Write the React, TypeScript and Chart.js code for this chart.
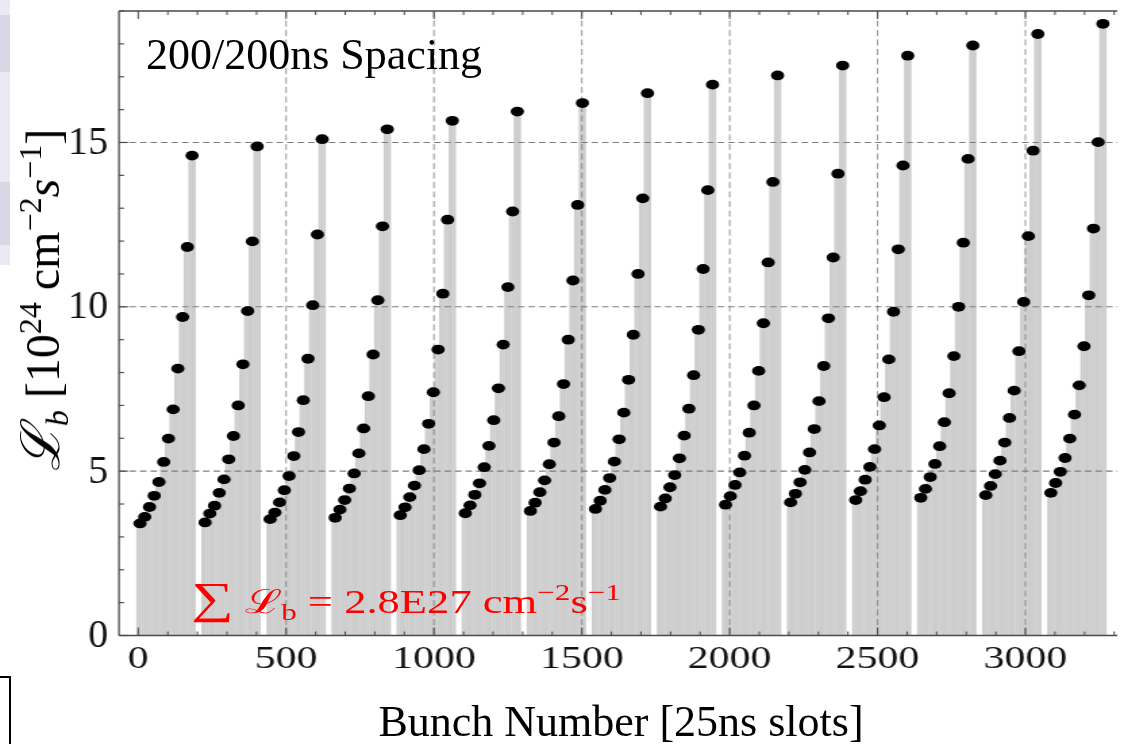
import { useEffect, useRef } from 'react';
import { Chart, registerables } from 'chart.js';

Chart.register(...registerables);

// ---- data (bunch luminosity, 10^24 cm^-2 s^-1) ----
const train01 = [3.41, 3.61, 3.91, 4.25, 4.67, 5.28, 5.99, 6.88, 8.12, 9.69, 11.82, 14.6];
const train02 = [3.44, 3.71, 3.95, 4.34, 4.75, 5.36, 6.07, 7.0, 8.25, 9.87, 11.99, 14.88];
const train03 = [3.54, 3.74, 4.05, 4.42, 4.85, 5.46, 6.19, 7.16, 8.42, 10.05, 12.2, 15.1];
const train04 = [3.58, 3.83, 4.12, 4.47, 4.93, 5.54, 6.3, 7.28, 8.55, 10.2, 12.45, 15.4];
const train05 = [3.66, 3.9, 4.21, 4.56, 5.03, 5.67, 6.44, 7.4, 8.7, 10.4, 12.65, 15.66];
const train06 = [3.72, 3.96, 4.28, 4.63, 5.12, 5.77, 6.55, 7.52, 8.85, 10.6, 12.9, 15.94];
const train07 = [3.79, 4.04, 4.36, 4.72, 5.21, 5.87, 6.67, 7.65, 9.0, 10.8, 13.1, 16.2];
const train08 = [3.85, 4.1, 4.43, 4.79, 5.29, 5.97, 6.78, 7.78, 9.15, 11.0, 13.3, 16.5];
const train09 = [3.92, 4.17, 4.51, 4.88, 5.39, 6.08, 6.9, 7.92, 9.3, 11.15, 13.55, 16.76];
const train10 = [3.98, 4.24, 4.58, 4.96, 5.47, 6.17, 7.0, 8.05, 9.5, 11.35, 13.8, 17.04];
const train11 = [4.05, 4.31, 4.66, 5.04, 5.57, 6.28, 7.13, 8.2, 9.65, 11.5, 14.05, 17.34];
const train12 = [4.12, 4.39, 4.74, 5.13, 5.67, 6.39, 7.25, 8.4, 9.85, 11.75, 14.3, 17.64];
const train13 = [4.19, 4.46, 4.82, 5.22, 5.76, 6.49, 7.37, 8.5, 10.0, 11.95, 14.5, 17.95];
const train14 = [4.27, 4.55, 4.91, 5.32, 5.87, 6.62, 7.45, 8.65, 10.15, 12.15, 14.75, 18.3];
const train15 = [4.34, 4.64, 4.98, 5.4, 5.99, 6.72, 7.61, 8.8, 10.35, 12.38, 15.01, 18.61];

const trains = [train01, train02, train03, train04, train05, train06, train07, train08,
  train09, train10, train11, train12, train13, train14, train15];

// first marked bunch of every train [25ns slots]
const trainFirstBunch = [6, 226, 446, 666, 886, 1106, 1326, 1546, 1766, 1986, 2206, 2426, 2646, 2866, 3086];
// marked bunches within a train (offset from its first marked bunch)
const dotOffsets = [0, 16, 32, 48, 64, 80, 96, 112, 128, 144, 160, 176];
// filled bunches within a train (offset from its first marked bunch)
const stemOffsets = [-8, 0, 8, 16, 24, 32, 40, 48, 56, 64, 72, 80, 88, 96, 104, 112, 120, 128, 136, 144, 152, 160, 168, 176, 184];

const xTickValues = [0, 500, 1000, 1500, 2000, 2500, 3000];
const yTickValues = [0, 5, 10, 15];
const xGridValues = [500, 1000, 1500, 2000, 2500, 3000];
const yGridValues = [5, 10, 15];

const X_MIN = -65;
const X_MAX = 3311;
const Y_MIN = 0;
const Y_MAX = 19;

// horizontal stretch of the plotted graphic
const W = 832;
const H = 744;
const S = 1124 / W;
const SERIF = '"Liberation Serif", "Times New Roman", "DejaVu Serif", serif';

const dotPoints = trains.flatMap((t, k) => t.map((v, i) => ({ x: trainFirstBunch[k] + dotOffsets[i], y: v })));
const stemPoints = trains.flatMap((t, k) =>
  stemOffsets.map((o) => {
    const idx = Math.min(t.length - 1, Math.max(0, Math.ceil(o / 16)));
    return { x: trainFirstBunch[k] + o, y: t[idx] };
  })
);

const framePlugin = {
  id: 'framePlugin',
  afterDatasetDraw(chart: any, args: any) {
    if (args.index !== 0) return;
    const { ctx, chartArea: a, scales } = chart;
    const x = scales.x;
    const y = scales.y;
    ctx.save();
    ctx.strokeStyle = '#7c7c7c';
    ctx.lineWidth = 0.8;
    ctx.setLineDash([6, 3.5]);
    for (const v of xGridValues) {
      const px = x.getPixelForValue(v);
      ctx.beginPath();
      ctx.moveTo(px, a.top);
      ctx.lineTo(px, a.bottom);
      ctx.stroke();
    }
    ctx.lineWidth = 1.1;
    ctx.setLineDash([6.5 / S, 4 / S]);
    for (const v of yGridValues) {
      const py = y.getPixelForValue(v);
      ctx.beginPath();
      ctx.moveTo(a.left, py);
      ctx.lineTo(a.right, py);
      ctx.stroke();
    }
    ctx.restore();
  },
  afterDraw(chart: any) {
    const { ctx, chartArea: a, scales } = chart;
    const x = scales.x;
    const y = scales.y;
    ctx.save();
    ctx.strokeStyle = '#4a4a4a';
    ctx.setLineDash([]);
    ctx.lineWidth = 1.3;
    ctx.beginPath();
    ctx.moveTo(a.left, a.top);
    ctx.lineTo(a.left, a.bottom);
    ctx.stroke();
    ctx.lineWidth = 1.6;
    ctx.beginPath();
    ctx.moveTo(a.left, a.bottom);
    ctx.lineTo(a.right, a.bottom);
    ctx.moveTo(a.left, a.top);
    ctx.lineTo(a.right, a.top);
    ctx.stroke();
    ctx.lineWidth = 1;
    for (let v = 0; v <= 3300; v += 100) {
      const px = x.getPixelForValue(v);
      const len = v % 500 === 0 ? 8 : 4;
      ctx.beginPath();
      ctx.moveTo(px, a.bottom);
      ctx.lineTo(px, a.bottom - len);
      ctx.moveTo(px, a.top);
      ctx.lineTo(px, a.top + len);
      ctx.stroke();
    }
    ctx.lineWidth = 1.2;
    for (let v = 0; v <= 19; v += 1) {
      const py = y.getPixelForValue(v);
      const len = (v % 5 === 0 ? 9 : 5) / S;
      ctx.beginPath();
      ctx.moveTo(a.left, py);
      ctx.lineTo(a.left + len, py);
      ctx.stroke();
    }
    // y tick labels, drawn unstretched (counter the horizontal stretch)
    ctx.fillStyle = '#111';
    ctx.font = `40px ${SERIF}`;
    ctx.textAlign = 'right';
    ctx.textBaseline = 'middle';
    for (const v of yTickValues) {
      const py = y.getPixelForValue(v);
      ctx.save();
      ctx.translate(a.left - 11 / S, py + 1);
      ctx.scale(1 / S, 1);
      ctx.fillText(String(v), 0, 0);
      ctx.restore();
    }
    ctx.restore();
  },
};

const supStyle = (fs: number, top: number): any => ({ fontSize: fs, position: 'relative', top, lineHeight: 0 });

const zeroPad = (s: any) => {
  s.paddingTop = 0;
  s.paddingBottom = 0;
  s.paddingLeft = 0;
  s.paddingRight = 0;
};

export default function App() {
  const ref = useRef<HTMLCanvasElement>(null);

  useEffect(() => {
    if (!ref.current) return;
    const chart = new Chart(ref.current, {
      type: 'scatter',
      data: {
        datasets: [
          {
            type: 'bar',
            data: stemPoints as any,
            backgroundColor: '#cdcdcd',
            borderWidth: 0,
            barThickness: 1.3,
            order: 2,
          } as any,
          {
            type: 'scatter',
            data: dotPoints,
            pointRadius: 4.9,
            pointBackgroundColor: '#000',
            pointBorderWidth: 0,
            pointHoverRadius: 4.9,
            order: 1,
          },
        ],
      },
      options: {
        animation: false,
        responsive: false,
        devicePixelRatio: 1,
        events: [],
        layout: { padding: { left: 0, right: 0, top: 11, bottom: 0 } },
        plugins: { legend: { display: false }, tooltip: { enabled: false } },
        scales: {
          x: {
            type: 'linear',
            min: X_MIN,
            max: X_MAX,
            offset: false,
            grid: { display: false, drawTicks: false },
            border: { display: false },
            afterBuildTicks: (s: any) => { s.ticks = xTickValues.map((v) => ({ value: v })); },
            afterFit: (s: any) => { s.height = H - 635.5; zeroPad(s); },
            ticks: {
              padding: 6,
              maxRotation: 0,
              autoSkip: false,
              color: '#111',
              font: { family: SERIF, size: 31 },
              callback: (v: any) => String(v),
            },
          },
          y: {
            type: 'linear',
            min: Y_MIN,
            max: Y_MAX,
            grid: { display: false, drawTicks: false },
            border: { display: false },
            afterBuildTicks: (s: any) => { s.ticks = yTickValues.map((v) => ({ value: v })); },
            afterFit: (s: any) => { s.width = 119 / S; zeroPad(s); },
            ticks: { display: false },
          },
        },
      },
      plugins: [framePlugin],
    });
    return () => chart.destroy();
  }, []);

  return (
    <div style={{ position: 'fixed', left: 0, top: 0, width: 1124, height: 744, overflow: 'hidden', background: '#fff' }}>
      <div style={{ position: 'absolute', left: 0, top: 0, width: W, height: H, transform: `scaleX(${S})`, transformOrigin: '0 0' }}>
        <canvas ref={ref} width={W} height={H} style={{ display: 'block', width: W, height: H }} />
        <div style={{ position: 'absolute', left: 141.5, top: 577, fontFamily: SERIF, fontSize: 33, lineHeight: 1, color: '#ff0000', whiteSpace: 'nowrap' }}>
          <span style={{ fontSize: 44 }}>∑</span> ℒ<span style={supStyle(23, 7)}>b</span> = 2.8E27 cm<span style={supStyle(23, -13)}>−2</span>s<span style={supStyle(23, -13)}>−1</span>
        </div>
      </div>

      <div style={{ position: 'absolute', left: 146, top: 33, fontFamily: SERIF, fontSize: 44, lineHeight: 1, color: '#000', whiteSpace: 'nowrap' }}>
        200/200ns Spacing
      </div>
      <div style={{ position: 'absolute', left: 621, top: 700, transform: 'translateX(-50%)', fontFamily: SERIF, fontSize: 44, lineHeight: 1, color: '#000', whiteSpace: 'nowrap' }}>
        Bunch Number [25ns slots]
      </div>
      <div style={{ position: 'absolute', left: 41, top: 300, transform: 'translate(-50%, -50%) rotate(-90deg)', fontFamily: SERIF, fontSize: 48, lineHeight: 1, color: '#000', whiteSpace: 'nowrap' }}>
        <span style={{ fontStyle: 'italic', fontSize: 54 }}>ℒ</span><span style={{ ...supStyle(32, 9), fontStyle: 'italic' }}>b</span> [10<span style={supStyle(32, -18)}>24</span> cm<span style={supStyle(32, -18)}>−2</span><span style={{ fontStyle: 'italic' }}>s</span><span style={supStyle(32, -18)}>−1</span>]
      </div>

      <div style={{ position: 'absolute', left: 0, top: 0, width: 10, height: 15, background: '#ebe9f1' }} />
      <div style={{ position: 'absolute', left: 0, top: 15, width: 10, height: 57, background: '#d9d6e6' }} />
      <div style={{ position: 'absolute', left: 0, top: 72, width: 10, height: 110, background: '#ebe9f1' }} />
      <div style={{ position: 'absolute', left: 0, top: 182, width: 10, height: 63, background: '#d9d6e6' }} />
      <div style={{ position: 'absolute', left: 0, top: 245, width: 10, height: 20, background: '#ebe9f1' }} />
      <div style={{ position: 'absolute', left: -2, top: 676, width: 13, height: 80, borderTop: '2px solid #000', borderRight: '2px solid #000', boxSizing: 'border-box' }} />
    </div>
  );
}
